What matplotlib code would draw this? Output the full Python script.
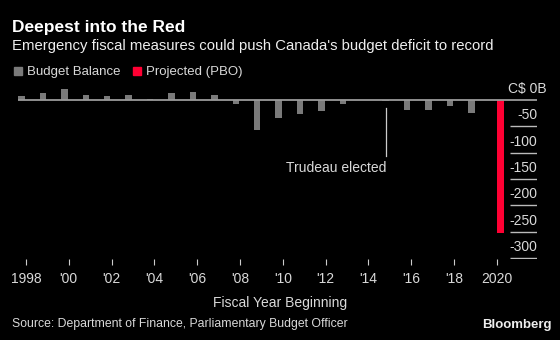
import matplotlib
matplotlib.use("Agg")
import matplotlib.pyplot as plt
from matplotlib.patches import Patch
from matplotlib.transforms import offset_copy

plt.rcParams['font.family'] = ['Liberation Sans', 'DejaVu Sans']

# fiscal-year budget balance, C$ billions
years = list(range(1998, 2020))
balance = [7, 14.5, 21, 10, 8, 10, 2, 14.5,
           15, 10, -7, -56, -33, -27, -20, -7,
           -0.5, -1, -18, -18, -12, -25]
proj_year = [2020]
proj_value = [-252]

tick_years = list(range(1998, 2021, 2))
tick_labels = ['1998', "'00", "'02", "'04", "'06", "'08", "'10", "'12",
               "'14", "'16", "'18", '2020']
y_ticks = [0, -50, -100, -150, -200, -250, -300]
y_labels = ['C$ 0B', '-50', '-100', '-150', '-200', '-250', '-300']

BG = 'black'
GRAY = '#7a7a7a'
RED = '#ff0033'
TXT = '#d9d9d9'

fig = plt.figure(figsize=(5.6, 3.4), dpi=100, facecolor=BG)
ax = fig.add_axes([0.032, 0.238, 0.927, 0.503], facecolor=BG)

ax.bar([y - 0.2 for y in years], balance, width=0.3, color=GRAY, zorder=2)
ax.bar([y + 0.17 for y in proj_year], proj_value, width=0.32, color=RED, zorder=3)

ax.set_xlim(1997.63, 2021.87)
ax.set_ylim(-302, 23)

# zero line across, short grid marks under the right-side labels
ax.axhline(0, color='#9a9a9a', lw=1.3, zorder=4)
ax.hlines(y_ticks[1:], 2020.6, 2021.87, color='#bbbbbb', lw=1)
for v, lab in zip(y_ticks, y_labels):
    tr = offset_copy(ax.transData, fig=fig, x=0, y=3, units='points')
    ax.text(2021.87 if v else 2022.3, v, lab, transform=tr, ha='right', va='bottom',
            color=TXT, fontsize=10)

# Trudeau annotation
ax.plot([2014.83, 2014.83], [-15, -107], color='#cccccc', lw=0.9)
ax.text(2014.83, -115, 'Trudeau elected', ha='right', va='top', color=TXT, fontsize=10)

for s in ax.spines.values():
    s.set_visible(False)
ax.set_yticks([])
ax.set_xticks(tick_years)
ax.set_xticklabels(tick_labels, color=TXT, fontsize=10)
ax.tick_params(axis='x', colors='#cccccc', length=4, width=0.8, pad=5, labelcolor=TXT)

fig.text(0.5, 0.108, 'Fiscal Year Beginning', ha='center', va='center', color=TXT, fontsize=10)
fig.text(0.021, 0.047, 'Source: Department of Finance, Parliamentary Budget Officer',
         ha='left', va='center', color=TXT, fontsize=8.8)
fig.text(0.985, 0.044, 'Bloomberg', ha='right', va='center', color='#eeeeee',
         fontsize=9.5, fontweight='bold')

fig.text(0.021, 0.92, 'Deepest into the Red', ha='left', va='center', color='white',
         fontsize=12.5, fontweight='bold')
fig.text(0.021, 0.865, "Emergency fiscal measures could push Canada's budget deficit to record",
         ha='left', va='center', color='#eeeeee', fontsize=10.7)

fig.legend(handles=[Patch(color=GRAY, label='Budget Balance'),
                    Patch(color=RED, label='Projected (PBO)')],
           loc='center left', bbox_to_anchor=(0.004, 0.787), ncol=2, frameon=False,
           fontsize=9.5, labelcolor=TXT, handlelength=0.6, handleheight=0.6,
           handletextpad=0.4, columnspacing=0.9)

fig.savefig('out.png', dpi=100, facecolor=BG)
